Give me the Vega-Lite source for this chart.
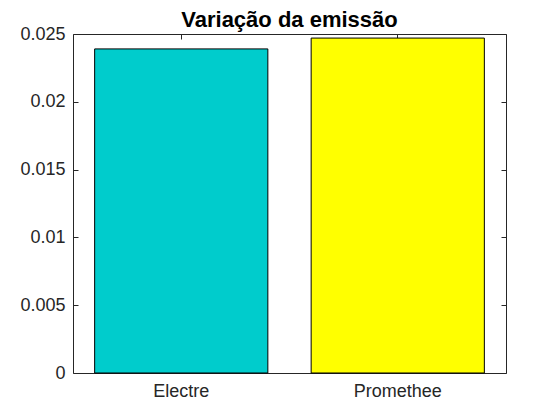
{
  "$schema": "https://vega.github.io/schema/vega-lite/v6.json",
  "width": 433,
  "height": 339,
  "autosize": {"type": "none"},
  "padding": {"left": 73, "top": 34, "right": 54, "bottom": 47},
  "background": "white",
  "title": {
    "text": "Variação da emissão",
    "font": "Liberation Sans",
    "fontSize": 22,
    "fontWeight": "bold",
    "color": "#000000",
    "anchor": "middle",
    "offset": -7
  },
  "config": {
    "view": {"stroke": null},
    "axis": {
      "labelFont": "Liberation Sans",
      "labelFontSize": 18,
      "labelColor": "#262626",
      "domainColor": "#262626",
      "tickColor": "#262626",
      "domainWidth": 1,
      "tickWidth": 1,
      "grid": false,
      "title": null
    }
  },
  "data": {
    "values": [
      {"metodo": "Electre", "valor": 0.0239},
      {"metodo": "Promethee", "valor": 0.0247}
    ]
  },
  "layer": [
    {
      "mark": {"type": "bar", "stroke": "#000000", "strokeWidth": 1},
      "encoding": {
        "x": {
          "field": "metodo",
          "type": "nominal",
          "sort": ["Electre", "Promethee"],
          "scale": {"paddingInner": 0.2, "paddingOuter": 0.1},
          "axis": {"orient": "bottom", "labelAngle": 0, "tickSize": -5, "labelPadding": 14}
        },
        "y": {
          "field": "valor",
          "type": "quantitative",
          "scale": {"domain": [0, 0.025], "nice": false, "zero": true},
          "axis": {"orient": "left", "values": [0, 0.005, 0.01, 0.015, 0.02, 0.025], "format": "~g", "tickSize": -5, "labelPadding": 13}
        },
        "color": {
          "field": "metodo",
          "type": "nominal",
          "scale": {"domain": ["Electre", "Promethee"], "range": ["#00CCCC", "#FFFF00"]},
          "legend": null
        }
      }
    },
    {
      "mark": {"type": "bar", "opacity": 0},
      "encoding": {
        "x": {
          "field": "metodo",
          "type": "nominal",
          "sort": ["Electre", "Promethee"],
          "scale": {"paddingInner": 0.2, "paddingOuter": 0.1},
          "axis": {"orient": "top", "labels": false, "tickSize": -5}
        },
        "y": {
          "field": "valor",
          "type": "quantitative",
          "scale": {"domain": [0, 0.025], "nice": false, "zero": true},
          "axis": {"orient": "right", "values": [0, 0.005, 0.01, 0.015, 0.02, 0.025], "labels": false, "tickSize": -5}
        }
      }
    }
  ],
  "resolve": {"axis": {"x": "independent", "y": "independent"}}
}
